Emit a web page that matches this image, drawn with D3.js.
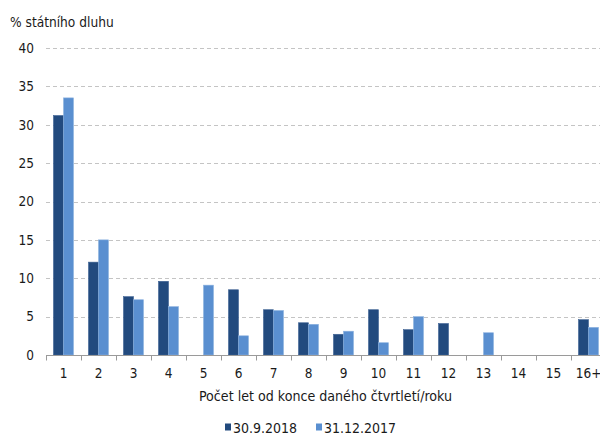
<!DOCTYPE html>
<html>
<head>
<meta charset="utf-8">
<script src="https://cdn.jsdelivr.net/npm/d3@7"></script>
<style>
  html, body { margin: 0; padding: 0; background: #fff; }
  svg { display: block; }
  text { font-family: "DejaVu Sans Condensed", "DejaVu Sans", Verdana, sans-serif; font-stretch: condensed; fill: #1a1a1a; }
</style>
</head>
<body>
<svg id="chart" width="600" height="435"></svg>
<script>
// Remaining maturity buckets (years from the end of the given quarter/year)
const categories = ["1","2","3","4","5","6","7","8","9","10","11","12","13","14","15","16+"];
// Share of state debt, %
const seriesSep2018 = [31.2, 12.1, 7.6, 9.6, 0, 8.5, 5.9, 4.2, 2.7, 5.9, 3.3, 4.1, 0, 0, 0, 4.6];
const seriesDec2017 = [33.5, 15.0, 7.2, 6.3, 9.1, 2.5, 5.8, 4.0, 3.1, 1.6, 5.0, 0, 2.9, 0, 0, 3.6];
const seriesNames = ["30.9.2018", "31.12.2017"];
const seriesColors = ["#224a7e", "#5a8fd0"];
const yTicks = [0, 5, 10, 15, 20, 25, 30, 35, 40];
const yTitle = "% státního dluhu";
const xTitle = "Počet let od konce daného čtvrtletí/roku";

const svg = d3.select("#chart");
const margin = { left: 46, top: 48, bottom: 355 };
const bandW = 35;

const x = d3.scaleBand()
  .domain(categories)
  .range([margin.left, margin.left + bandW * categories.length])
  .paddingInner(0).paddingOuter(0);

const y = d3.scaleLinear().domain([0, 40]).range([margin.bottom, margin.top]);

// two bars per category, 10px each, centred in the 35px band
const sub = d3.scaleBand()
  .domain([0, 1])
  .range([0, bandW])
  .paddingInner(0)
  .paddingOuter(0.75);

// dashed horizontal gridlines
svg.append("g")
  .selectAll("line")
  .data(yTicks.filter(d => d > 0))
  .join("line")
  .attr("x1", margin.left).attr("x2", 600)
  .attr("y1", d => Math.round(y(d)) + 0.5).attr("y2", d => Math.round(y(d)) + 0.5)
  .attr("stroke", "#c4c4c4")
  .attr("stroke-width", 1)
  .attr("stroke-dasharray", "4,3");

// bars
const data = categories.map((c, i) => ({ c, vals: [seriesSep2018[i], seriesDec2017[i]] }));
const groups = svg.append("g")
  .selectAll("g")
  .data(data)
  .join("g")
  .attr("transform", d => `translate(${x(d.c)},0)`);

groups.selectAll("rect")
  .data(d => d.vals.map((v, k) => ({ v, k })).filter(e => e.v > 0))
  .join("rect")
  .attr("x", e => sub(e.k))
  .attr("width", sub.bandwidth())
  .attr("y", e => y(e.v))
  .attr("height", e => y(0) - y(e.v))
  .attr("fill", e => seriesColors[e.k])
  .attr("stroke", e => e.k === 0 ? "#3d6193" : "#8db2e0")
  .attr("stroke-width", 0.6);

// x axis
const xAxis = d3.axisBottom(x).tickSize(0).tickPadding(13);
const gx = svg.append("g")
  .attr("transform", `translate(0,${Math.round(y(0)) + 0.5})`)
  .call(xAxis);
gx.select(".domain").remove();
gx.append("line")
  .attr("x1", margin.left).attr("x2", 606)
  .attr("stroke", "#9a9a9a");
gx.selectAll(".sep")
  .data(d3.range(categories.length + 1))
  .join("line")
  .attr("class", "sep")
  .attr("x1", i => Math.round(margin.left + i * bandW) + 0.5)
  .attr("x2", i => Math.round(margin.left + i * bandW) + 0.5)
  .attr("y1", 0).attr("y2", 5)
  .attr("stroke", "#9a9a9a");
gx.selectAll(".tick text")
  .attr("font-size", 13.5)
  .attr("font-family", null)
  .attr("fill", "#1a1a1a");

// y axis labels
const yAxis = d3.axisLeft(y).tickValues(yTicks).tickSize(0).tickPadding(12);
const gy = svg.append("g")
  .attr("transform", `translate(${margin.left},0)`)
  .call(yAxis);
gy.select(".domain").remove();
gy.selectAll(".tick text")
  .attr("font-size", 13.5)
  .attr("font-family", null)
  .attr("fill", "#1a1a1a");

// titles
svg.append("text")
  .attr("x", 10).attr("y", 27)
  .attr("font-size", 13.6)
  .text(yTitle);

svg.append("text")
  .attr("x", 325.5).attr("y", 401)
  .attr("text-anchor", "middle")
  .attr("font-size", 14.1)
  .text(xTitle);

// legend
const legend = svg.append("g").attr("transform", "translate(225,427)");
const legendX = [0, 91];
seriesNames.forEach((name, k) => {
  const g = legend.append("g").attr("transform", `translate(${legendX[k]},0)`);
  g.append("rect").attr("x", 0).attr("y", -3.5).attr("width", 6).attr("height", 7)
    .attr("fill", seriesColors[k]);
  g.append("text").attr("x", 8).attr("y", 5.5).attr("font-size", 14).text(name);
});
</script>
</body>
</html>
